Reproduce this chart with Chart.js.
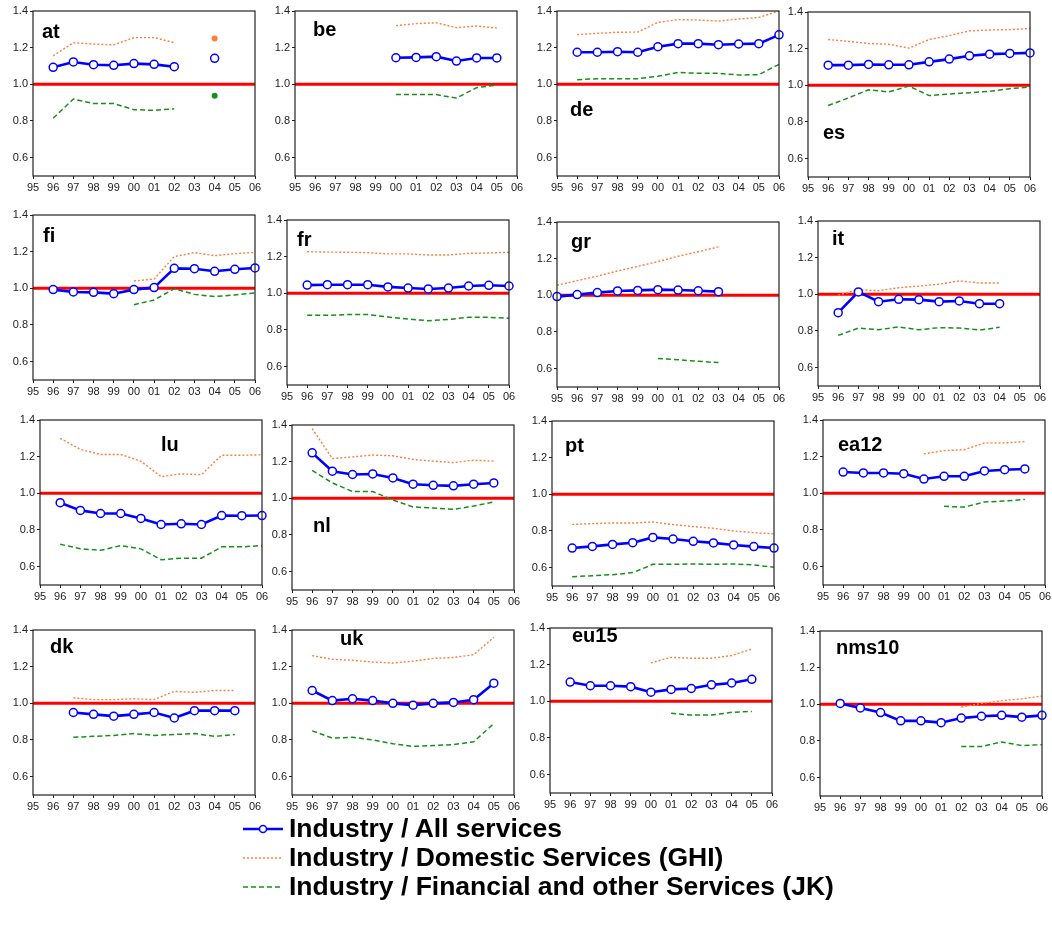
<!DOCTYPE html>
<html>
<head>
<meta charset="utf-8">
<script src="https://cdn.jsdelivr.net/npm/chart.js@4.4.1/dist/chart.umd.min.js"></script>
<style>
  body { margin: 0; background: #fff; font-family: "Liberation Sans", Arial, sans-serif; }
  #page { position: relative; width: 1052px; height: 930px; overflow: hidden; }
  .panel { position: absolute; }
  .tag { position: absolute; font-weight: bold; font-size: 20px; line-height: 1; color: #000; }
  #legend { position: absolute; left: 243px; top: 814px; }
  .row { display: flex; align-items: center; height: 29px; font-weight: bold; font-size: 26.5px; color: #000; white-space: nowrap; }
  .row svg { margin-right: 6px; }
</style>
</head>
<body>
<div id="page"></div>
<script>
// x categories and y ticks
const years = ['95', '96', '97', '98', '99', '00', '01', '02', '03', '04', '05', '06'];
const yTicks = [0.6, 0.8, 1.0, 1.2, 1.4];
const refValue = 1.0;

// Industry / All services, / Domestic services (GHI), / Financial and other (JK)
const atAll = [null, 1.093, 1.122, 1.107, 1.104, 1.113, 1.109, 1.096, null, 1.142, null, null];
const atGHI = [null, 1.156, 1.227, 1.22, 1.215, 1.255, 1.255, 1.227, null, 1.25, null, null];
const atJK = [null, 0.815, 0.92, 0.895, 0.895, 0.862, 0.858, 0.867, null, 0.938, null, null];

const beAll = [null, null, null, null, null, 1.145, 1.147, 1.151, 1.127, 1.144, 1.144, null];
const beGHI = [null, null, null, null, null, 1.32, 1.331, 1.336, 1.309, 1.318, 1.307, null];
const beJK = [null, null, null, null, null, 0.945, 0.945, 0.944, 0.925, 0.982, 0.996, null];

const deAll = [null, 1.175, 1.175, 1.178, 1.175, 1.205, 1.222, 1.222, 1.216, 1.22, 1.222, 1.27];
const deGHI = [null, 1.271, 1.278, 1.284, 1.285, 1.338, 1.353, 1.351, 1.345, 1.356, 1.365, 1.4];
const deJK = [null, 1.025, 1.031, 1.031, 1.031, 1.044, 1.065, 1.06, 1.06, 1.051, 1.053, 1.109];

const esAll = [null, 1.11, 1.11, 1.114, 1.112, 1.112, 1.128, 1.143, 1.161, 1.17, 1.174, 1.177];
const esGHI = [null, 1.25, 1.24, 1.228, 1.224, 1.203, 1.25, 1.271, 1.297, 1.302, 1.304, 1.31];
const esJK = [null, 0.89, 0.931, 0.976, 0.964, 0.996, 0.944, 0.953, 0.96, 0.967, 0.982, 0.991];

const fiAll = [null, 0.993, 0.98, 0.978, 0.971, 0.993, 1.004, 1.109, 1.107, 1.093, 1.104, 1.111];
const fiGHI = [null, null, null, null, null, 1.04, 1.051, 1.173, 1.195, 1.178, 1.189, 1.196];
const fiJK = [null, null, null, null, null, 0.911, 0.936, 0.998, 0.967, 0.955, 0.964, 0.975];

const frAll = [null, 1.045, 1.047, 1.047, 1.047, 1.035, 1.029, 1.024, 1.029, 1.04, 1.044, 1.04];
const frGHI = [null, 1.227, 1.225, 1.224, 1.222, 1.215, 1.215, 1.209, 1.209, 1.218, 1.22, 1.224];
const frJK = [null, 0.88, 0.88, 0.884, 0.884, 0.871, 0.86, 0.851, 0.858, 0.869, 0.869, 0.864];

const grAll = [0.993, 1.004, 1.015, 1.024, 1.027, 1.031, 1.029, 1.025, 1.02, null, null, null];
const grGHI = [1.055, 1.08, 1.105, 1.133, 1.158, 1.184, 1.213, 1.238, 1.264, null, null, null];
const grJK = [null, null, null, null, null, 0.656, 0.649, 0.64, 0.633, null, null, null];

const itAll = [null, 0.9, 1.013, 0.96, 0.973, 0.971, 0.96, 0.964, 0.949, 0.949, null, null];
const itGHI = [null, 0.996, 1.025, 1.02, 1.036, 1.045, 1.055, 1.073, 1.062, 1.062, null, null];
const itJK = [null, 0.776, 0.816, 0.807, 0.822, 0.807, 0.818, 0.816, 0.805, 0.82, null, null];

const luAll = [null, 0.949, 0.907, 0.89, 0.89, 0.863, 0.83, 0.834, 0.83, 0.879, 0.878, 0.879];
const luGHI = [null, 1.3, 1.24, 1.212, 1.212, 1.175, 1.091, 1.106, 1.102, 1.208, 1.208, 1.21];
const luJK = [null, 0.722, 0.698, 0.689, 0.715, 0.697, 0.638, 0.646, 0.646, 0.708, 0.708, 0.715];

const nlAll = [null, 1.248, 1.148, 1.13, 1.133, 1.111, 1.077, 1.071, 1.068, 1.077, 1.084, null];
const nlGHI = [null, 1.38, 1.217, 1.226, 1.236, 1.232, 1.212, 1.203, 1.195, 1.208, 1.203, null];
const nlJK = [null, 1.152, 1.084, 1.037, 1.037, 0.991, 0.953, 0.947, 0.94, 0.958, 0.98, null];

const ptAll = [null, 0.707, 0.716, 0.727, 0.736, 0.765, 0.756, 0.744, 0.735, 0.724, 0.715, 0.707];
const ptGHI = [null, 0.836, 0.84, 0.844, 0.844, 0.849, 0.835, 0.824, 0.815, 0.8, 0.791, 0.784];
const ptJK = [null, 0.551, 0.556, 0.562, 0.573, 0.618, 0.618, 0.62, 0.618, 0.62, 0.615, 0.602];

const eaAll = [null, 1.116, 1.111, 1.111, 1.107, 1.078, 1.093, 1.093, 1.122, 1.129, 1.133, null];
const eaGHI = [null, null, null, null, null, 1.215, 1.233, 1.238, 1.275, 1.275, 1.282, null];
const eaJK = [null, null, null, null, null, null, 0.929, 0.925, 0.953, 0.958, 0.967, null];

const dkAll = [null, null, 0.95, 0.94, 0.93, 0.94, 0.95, 0.92, 0.96, 0.96, 0.96, null];
const dkGHI = [null, null, 1.03, 1.02, 1.02, 1.025, 1.02, 1.065, 1.06, 1.07, 1.07, null];
const dkJK = [null, null, 0.815, 0.82, 0.825, 0.835, 0.825, 0.83, 0.835, 0.82, 0.83, null];

const ukAll = [null, 1.07, 1.015, 1.025, 1.015, 1.0, 0.99, 1.0, 1.005, 1.02, 1.11, null];
const ukGHI = [null, 1.26, 1.24, 1.235, 1.225, 1.22, 1.23, 1.245, 1.25, 1.265, 1.36, null];
const ukJK = [null, 0.85, 0.81, 0.815, 0.8, 0.78, 0.765, 0.77, 0.775, 0.79, 0.89, null];

const euAll = [null, 1.105, 1.085, 1.085, 1.08, 1.05, 1.065, 1.07, 1.09, 1.1, 1.12, null];
const euGHI = [null, null, null, null, null, 1.21, 1.24, 1.235, 1.235, 1.25, 1.285, null];
const euJK = [null, null, null, null, null, null, 0.935, 0.925, 0.925, 0.94, 0.945, null];

const nmsAll = [null, 1.005, 0.98, 0.955, 0.91, 0.91, 0.9, 0.925, 0.935, 0.94, 0.93, 0.94];
const nmsGHI = [null, null, null, null, null, null, null, 0.985, 1.005, 1.02, 1.03, 1.045];
const nmsJK = [null, null, null, null, null, null, null, 0.77, 0.77, 0.795, 0.775, 0.78];

// panel name, series, plot box on the page, label offset inside the box
const panels = [
  ['at', atAll, atGHI, atJK, 33, 11, 9, 10],
  ['be', beAll, beGHI, beJK, 295, 11, 18, 8],
  ['de', deAll, deGHI, deJK, 557, 11, 13, 88],
  ['es', esAll, esGHI, esJK, 808, 12, 15, 110],
  ['fi', fiAll, fiGHI, fiJK, 33, 215, 10, 10],
  ['fr', frAll, frGHI, frJK, 287, 220, 10, 9],
  ['gr', grAll, grGHI, grJK, 557, 222, 14, 9],
  ['it', itAll, itGHI, itJK, 818, 221, 14, 7],
  ['lu', luAll, luGHI, luJK, 40, 420, 121, 14],
  ['nl', nlAll, nlGHI, nlJK, 292, 425, 21, 90],
  ['pt', ptAll, ptGHI, ptJK, 552, 421, 13, 14],
  ['ea12', eaAll, eaGHI, eaJK, 823, 420, 15, 14],
  ['dk', dkAll, dkGHI, dkJK, 33, 630, 17, 6],
  ['uk', ukAll, ukGHI, ukJK, 292, 630, 48, -2],
  ['eu15', euAll, euGHI, euJK, 550, 628, 22, -3],
  ['nms10', nmsAll, nmsGHI, nmsJK, 820, 631, 16, 6]
];

const PW = 222, PH = 165, LEFT = 35, TOP = 6, RIGHT = 12, BOTTOM = 26;

// show a dot where a dashed series has a single isolated value
function lonePoint(ctx) {
  const d = ctx.dataset.data, i = ctx.dataIndex;
  if (d[i] == null) return 0;
  return (d[i - 1] == null && d[i + 1] == null) ? 3 : 0;
}

const framePlugin = {
  id: 'frame',
  beforeDatasetsDraw(chart) {
    const { ctx, chartArea: a, scales } = chart;
    const y = scales.y.getPixelForValue(refValue);
    ctx.save();
    ctx.strokeStyle = '#ff0000';
    ctx.lineWidth = 3;
    ctx.beginPath();
    ctx.moveTo(a.left, y);
    ctx.lineTo(a.right, y);
    ctx.stroke();
    ctx.restore();
  },
  afterDraw(chart) {
    const { ctx, chartArea: a } = chart;
    ctx.save();
    ctx.strokeStyle = '#222';
    ctx.lineWidth = 1.2;
    ctx.strokeRect(a.left, a.top, a.right - a.left, a.bottom - a.top);
    ctx.restore();
  }
};

const page = document.getElementById('page');
const tickFont = { family: '"Liberation Sans", Arial, sans-serif', size: 11 };

panels.forEach(([name, all, ghi, jk, px, py, lx, ly]) => {
  const box = document.createElement('div');
  box.className = 'panel';
  box.style.left = (px - LEFT) + 'px';
  box.style.top = (py - TOP) + 'px';
  const cv = document.createElement('canvas');
  cv.width = LEFT + PW + RIGHT;
  cv.height = TOP + PH + BOTTOM;
  box.appendChild(cv);
  page.appendChild(box);

  const tag = document.createElement('div');
  tag.className = 'tag';
  tag.textContent = name;
  tag.style.left = (px + lx) + 'px';
  tag.style.top = (py + ly) + 'px';
  page.appendChild(tag);

  new Chart(cv, {
    type: 'line',
    data: {
      labels: years,
      datasets: [
        {
          data: all, borderColor: '#0000ff', borderWidth: 2.6,
          pointRadius: 4, pointBorderWidth: 1.5, pointBackgroundColor: '#fff', pointBorderColor: '#0000ff'
        },
        {
          data: ghi, borderColor: '#ff7f3a', borderWidth: 1.4, borderDash: [2, 2],
          pointRadius: lonePoint, pointBorderWidth: 0, pointBackgroundColor: '#ff7f3a'
        },
        {
          data: jk, borderColor: '#17901a', borderWidth: 1.5, borderDash: [5, 3],
          pointRadius: lonePoint, pointBorderWidth: 0, pointBackgroundColor: '#17901a'
        }
      ]
    },
    options: {
      responsive: false,
      animation: false,
      layout: { padding: { top: TOP, right: RIGHT, left: 0, bottom: 0 } },
      plugins: { legend: { display: false }, tooltip: { enabled: false } },
      scales: {
        x: {
          type: 'category',
          offset: false,
          grid: { drawOnChartArea: false, drawTicks: true, tickLength: 3, color: '#222' },
          border: { display: false },
          ticks: { color: '#222', font: tickFont, padding: 2, maxRotation: 0, autoSkip: false },
          afterFit(s) { s.height = BOTTOM; s.paddingLeft = 0; s.paddingRight = 0; }
        },
        y: {
          min: 0.5,
          max: 1.4,
          grid: { drawOnChartArea: false, drawTicks: true, tickLength: 3, color: '#222' },
          border: { display: false },
          ticks: { color: '#222', font: tickFont, padding: 2, callback: v => v.toFixed(1) },
          afterBuildTicks(s) { s.ticks = yTicks.map(v => ({ value: v })); },
          afterFit(s) { s.width = LEFT; s.paddingTop = 0; s.paddingBottom = 0; }
        }
      }
    },
    plugins: [framePlugin]
  });
});

// legend
const legendItems = [
  ['Industry / All services', '#0000ff', 2.6, '', true],
  ['Industry / Domestic Services (GHI)', '#ff7f3a', 1.4, '2,2', false],
  ['Industry / Financial and other Services (JK)', '#17901a', 1.5, '5,3', false]
];
const legend = document.createElement('div');
legend.id = 'legend';
legendItems.forEach(([text, color, w, dash, marker]) => {
  const row = document.createElement('div');
  row.className = 'row';
  row.innerHTML =
    '<svg width="40" height="12"><line x1="0" y1="6" x2="40" y2="6" stroke="' + color +
    '" stroke-width="' + w + '"' + (dash ? ' stroke-dasharray="' + dash + '"' : '') + '/>' +
    (marker ? '<circle cx="20" cy="6" r="3.5" fill="#fff" stroke="' + color + '" stroke-width="1.5"/>' : '') +
    '</svg><span>' + text + '</span>';
  legend.appendChild(row);
});
page.appendChild(legend);
</script>
</body>
</html>
